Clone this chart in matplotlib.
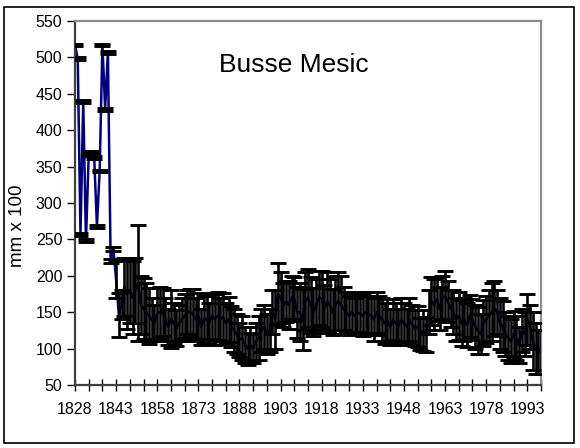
import numpy as np
import matplotlib
matplotlib.use("Agg")
import matplotlib.pyplot as plt
from matplotlib.patches import Rectangle

plt.rcParams['font.family'] = ['Liberation Sans', 'DejaVu Sans']

# yearly means (mm x 100), 1828 onwards
first_year = 1828
means = [
    517, 498, 257, 439, 248, 366, 370, 363, 268, 344,   # 1828
    517, 429, 507, 220, 237, 195, 146, 160, 185, 175,   # 1838
    180, 170, 180, 190, 160, 155, 150, 145, 140, 135,   # 1848
    148, 150, 150, 140, 130, 141, 135, 128, 135, 140,   # 1858
    145, 150, 150, 148, 140, 145, 130, 140, 140, 135,   # 1868
    145, 140, 145, 140, 143, 135, 140, 130, 125, 120,   # 1878
    112, 115, 105, 100, 105, 100, 110, 115, 125, 130,   # 1888
    120, 125, 150, 140, 175, 170, 160, 165, 160, 170,   # 1898
    168, 150, 150, 140, 165, 170, 160, 150, 160, 170,   # 1908
    168, 155, 165, 160, 150, 160, 165, 160, 155, 150,   # 1918
    145, 150, 145, 150, 148, 145, 150, 148, 145, 140,   # 1928
    150, 145, 140, 135, 138, 130, 140, 135, 130, 140,   # 1938
    135, 130, 140, 133, 128, 130, 120, 125, 120, 150,   # 1948
    165, 160, 168, 155, 170, 172, 165, 155, 150, 140,   # 1958
    145, 135, 140, 132, 145, 140, 130, 125, 120, 135,   # 1968
    140, 145, 150, 155, 150, 135, 130, 120, 115, 110,   # 1978
    120, 115, 105, 125, 120, 140, 130, 110, 100, 95,    # 1988
    100,                                                # 1998
]
# half width of the error bars
errors = [
    2, 2, 2, 2, 2, 2, 2, 2, 2, 2,
    2, 2, 2, 3, 3, 25, 30, 20, 40, 48,
    45, 50, 45, 80, 40, 42, 40, 38, 30, 25,
    35, 35, 33, 30, 25, 40, 28, 25, 25, 30,
    30, 30, 32, 34, 30, 32, 25, 32, 34, 28,
    32, 35, 33, 30, 33, 28, 31, 28, 30, 28,
    23, 30, 25, 22, 25, 20, 25, 30, 30, 30,
    28, 30, 30, 40, 43, 35, 30, 28, 33, 30,
    30, 35, 40, 42, 40, 40, 38, 33, 35, 37,
    38, 33, 40, 35, 32, 40, 40, 40, 30, 28,
    27, 27, 25, 28, 25, 28, 28, 30, 27, 30,
    28, 27, 30, 28, 30, 25, 28, 28, 25, 30,
    28, 25, 29, 27, 25, 28, 22, 28, 24, 30,
    33, 35, 30, 30, 30, 35, 28, 26, 30, 30,
    33, 32, 30, 30, 29, 28, 30, 32, 28, 32,
    32, 35, 40, 38, 30, 35, 35, 30, 30, 30,
    32, 30, 25, 30, 30, 35, 30, 40, 35, 30,
    35,
]
years = np.arange(first_year, first_year + len(means))

tick_years = np.arange(1828, 1999, 5)
label_years = np.arange(1828, 1994, 15)

fig = plt.figure(figsize=(5.8, 4.48), dpi=100)
ax = fig.add_axes([75 / 580, 1 - 385 / 448, 466 / 580, 364 / 448])

ax.plot(years, means, color='#000080', lw=1.8, zorder=2)
ax.errorbar(years, means, yerr=errors, fmt='none', ecolor='black',
            elinewidth=1.9, capsize=6, capthick=2.1, zorder=3)

ax.set_xlim(1828, 1998)
ax.set_ylim(50, 550)
ax.set_yticks(np.arange(50, 551, 50))
ax.set_xticks(tick_years)
ax.set_xticklabels([str(y) if y in label_years else '' for y in tick_years])

ax.tick_params(axis='x', direction='inout', length=8, width=1, pad=8, labelsize=11.5, colors='black')
ax.tick_params(axis='y', direction='out', length=6, width=1, pad=3, labelsize=11.5)

for side in ['left', 'bottom']:
    ax.spines[side].set_color('#404040')
    ax.spines[side].set_linewidth(1.6)
for side in ['top', 'right']:
    ax.spines[side].set_color('#8c8c8c')
    ax.spines[side].set_linewidth(1.6)

ax.text(0.47, 0.88, 'Busse Mesic', transform=ax.transAxes, fontsize=19,
        ha='center', va='center')
fig.text(18 / 580, 1 - 226 / 448, 'mm x 100', rotation=90, fontsize=13.5,
         ha='center', va='center')

fig.patches.append(Rectangle((4 / 580, 1 - 443 / 448), 570 / 580, 436 / 448,
                             transform=fig.transFigure, fill=False,
                             edgecolor='black', lw=1.2))

fig.savefig('out.png', dpi=100)
